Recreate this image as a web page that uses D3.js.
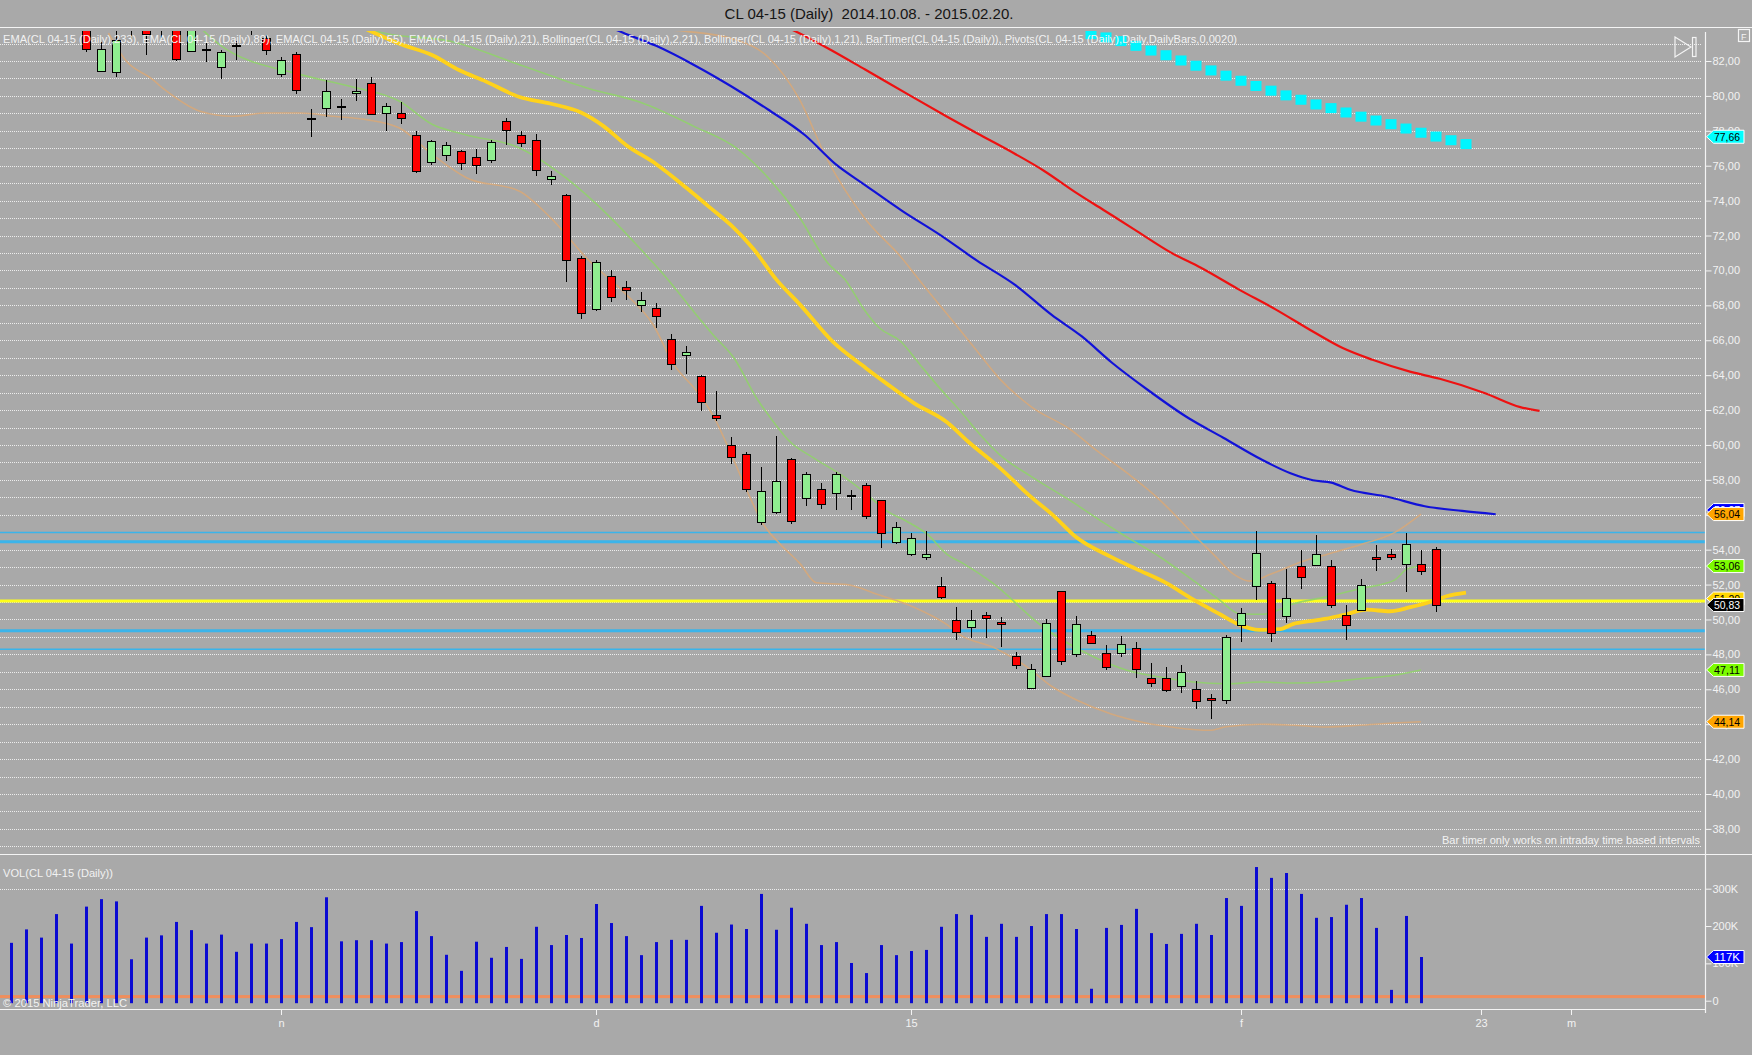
<!DOCTYPE html>
<meta charset="utf-8">
<style>
body { margin: 0; background: #a9a9a9; }
svg { display: block; font-family: "Liberation Sans", Arial, sans-serif; }
.lbl { fill: #f2f2f2; font-size: 11px; }
</style>
<svg width="1752" height="1055"></svg>
<script src="https://d3js.org/d3.v7.min.js"></script>
<script>

// daily bars, CL 04-15, index 0 = 2014.10.08
var barOpen  = [86.2,85.5,85.9,85.2,84.9,84.3,81.41,81.35,84.2,84.6,84.1,84.4,82.59,82.70,81.64,82.90,84.0,83.32,81.29,82.40,
                78.72,79.29,79.42,80.17,80.74,79.00,79.00,77.74,76.26,76.60,76.83,76.48,76.29,78.58,77.74,77.48,75.20,74.30,70.70,67.81,
                69.70,69.03,67.98,67.87,66.09,65.12,63.97,61.74,60.02,59.51,55.63,56.21,59.22,56.93,57.45,57.22,57.16,57.73,56.82,54.47,
                53.78,53.61,51.89,49.95,49.53,50.23,49.84,47.89,46.08,46.78,51.61,48.02,49.13,48.10,48.08,48.39,46.67,46.67,46.19,46.04,
                45.52,45.35,49.70,51.94,52.11,50.22,53.08,53.14,53.08,50.27,50.56,53.60,53.77,53.19,53.19,54.05];
var barHigh  = [86.9,86.3,86.4,85.8,86.0,84.6,83.1,83.9,85.2,84.9,84.9,84.8,84.1,83.07,82.65,83.13,84.8,83.47,82.23,82.50,
                79.25,80.93,79.82,80.97,81.08,79.58,79.65,77.97,77.50,77.34,76.90,76.94,77.45,78.74,78.00,77.80,75.70,74.40,70.80,70.60,
                70.00,69.40,68.74,68.11,66.36,65.65,64.00,63.08,60.48,59.60,58.73,60.50,59.25,58.44,57.83,58.44,57.41,57.80,56.85,55.58,
                54.93,55.06,52.43,50.71,50.54,50.42,50.14,48.14,47.47,50.00,51.65,50.18,49.32,48.52,49.03,48.73,47.53,47.26,47.39,46.50,
                45.75,49.13,50.66,55.05,52.18,52.91,53.96,54.82,53.39,50.81,52.30,54.24,54.01,54.97,53.96,54.15];
var barLow   = [85.1,84.6,84.9,84.3,84.5,82.5,81.35,81.06,83.3,82.32,83.3,81.98,82.55,81.92,80.99,82.08,83.5,82.36,81.10,80.13,
                77.67,78.77,78.64,79.73,78.89,78.01,78.39,75.59,76.06,76.29,75.78,75.55,76.18,77.17,77.10,75.40,74.90,69.35,67.24,67.70,
                68.19,68.31,67.62,66.70,64.30,64.07,61.97,61.40,58.88,57.33,55.44,56.07,55.48,56.49,56.34,56.28,56.28,55.73,54.11,54.34,
                53.63,53.38,51.15,48.80,48.95,48.95,48.42,47.16,46.02,46.75,47.39,47.85,48.58,47.09,47.83,46.63,46.13,45.83,45.79,44.87,
                44.32,45.14,48.71,51.13,48.71,49.82,51.74,53.10,50.66,48.84,50.47,52.76,53.39,51.57,52.55,50.43];
var barClose = [85.5,85.9,85.2,84.9,85.6,82.69,82.67,83.18,84.7,83.55,84.5,82.08,83.85,82.62,82.50,82.86,84.4,82.61,82.08,80.32,
                78.68,80.28,79.38,80.30,78.98,79.40,78.72,75.68,77.44,77.17,76.14,76.05,77.34,78.07,77.30,75.74,75.40,70.60,67.52,70.50,
                68.50,68.84,68.29,67.41,64.68,65.31,62.48,61.57,59.34,57.50,57.39,57.96,55.67,58.31,56.59,58.31,57.12,55.96,54.93,55.31,
                54.68,53.78,51.28,49.26,49.95,50.06,49.70,47.35,47.18,49.82,47.62,49.76,48.65,47.28,48.61,47.16,46.36,45.96,47.01,45.35,
                45.39,48.98,50.37,53.82,49.24,51.25,52.45,53.77,50.85,49.70,51.99,53.48,53.61,54.34,52.79,50.83];

// volume in thousands (last bar has none)
var volume = [155,191,169,232,153,252,272,266,111,169,175,211,189,153,177,131,153,153,165,211,
              197,277,159,162,162,153,157,240,173,123,80,158,115,144,112,198,149,176,168,259,
              208,173,122,157,163,163,254,182,204,192,286,190,249,206,149,157,101,74,149,122,
              133,136,198,232,230,171,206,171,200,232,232,192,32,195,203,246,181,152,179,206,
              176,275,254,358,329,342,286,222,224,257,275,195,29,227,117];
var volLine = 11;

// indicator lines: [bar index, value]
var ema233 = [[50,84.6],[52.46,83.63],[54.45,82.73],[56.94,81.51],[59.92,80.03],[62.41,78.81],[64.4,77.86],[66.89,76.7],
              [68.88,75.7],[70.87,74.53],[72.86,73.45],[74.85,72.37],[77.34,71.02],[79.33,70.15],[81.81,68.93],[84.3,67.77],
              [86.79,66.5],[88.78,65.55],[90.77,64.88],[93.26,64.2],[95.25,63.79],[98.23,62.98],[100.62,62.17],[101.9,61.95]];
var ema89  = [[38.5,84.5],[40.77,83.63],[43.01,82.87],[45.5,81.79],[47.98,80.57],[50.47,79.22],[52.96,77.73],[54.95,76.1],
              [56.94,74.89],[59.43,73.4],[61.91,72.05],[64.4,70.56],[66.89,69.2],[69.38,67.45],[71.37,66.23],[73.36,64.74],
              [75.84,63.12],[78.33,61.63],[80.82,60.41],[83.31,59.19],[85.3,58.38],[86.79,57.98],[88.03,57.84],[89.28,57.43],
              [91.77,57.03],[94.25,56.49],[96.74,56.22],[98.98,56.03]];
var emaGold = [[22.5,84.3],[24.1,83.66],[25.9,82.99],[28.1,82.33],[29.9,81.47],[31.5,80.89],[33.9,79.94],[36,79.55],
               [38,79.05],[39.5,78.27],[41,77.19],[43,76.1],[45,74.75],[46.5,73.67],[48,72.59],[49.5,71.23],[51,69.5],
               [52.6,68.04],[54.8,65.9],[57,64.4],[58.4,63.5],[60.2,62.4],[62.4,61.3],[63.8,60.2],[65.9,58.7],[67.9,57.1],
               [69.5,55.95],[71,54.72],[73.3,53.6],[75,52.9],[77,52.1],[78.8,51.15],[80.6,50.3],[81.9,49.7],[83.2,49.4],
               [84.6,49.45],[85.5,49.75],[86.6,49.9],[87.7,50.05],[88.8,50.25],[90.4,50.56],[91.9,50.47],[93.3,50.71],
               [94.6,51.0],[95.7,51.33],[97,51.54]];
var bbUpper2 = [[38,84.3],[42,83.9],[45,83.7],[48,83.3],[50.5,82.2],[52.5,79.9],[54.45,76.3],[56.9,73.0],[59.4,70.7],
                [60.6,69.4],[62.4,67.5],[64.2,65.6],[65.9,63.8],[68,62.2],[70.6,60.9],[72.5,59.6],[74.4,58.4],[76.4,57.0],
                [77.7,55.9],[78.8,54.9],[80.2,53.7],[81.5,52.6],[82.6,52.2],[84,52.6],[86,53.3],[88,53.8],[90,54.3],
                [92.2,54.96],[94,56.04]];
var bbUpper1 = [[23.5,84.0],[24.8,83.6],[29.3,83.13],[33.9,81.79],[38.5,80.43],[42,79.62],[45.5,78.27],[48.5,76.92],
                [50.5,75.29],[52.5,73.13],[54.45,70.42],[55.7,69.37],[56.8,67.85],[57.9,66.7],[59.3,65.94],[60.6,64.6],
                [61.9,63.27],[63.3,61.93],[64.6,60.6],[65.9,59.45],[68,58.2],[70.6,56.82],[72.6,55.68],[74.4,54.72],
                [76.6,53.58],[78.8,52.24],[80.6,51.1],[81.9,50.33],[83.5,50.3],[85.5,50.9],[87.7,51.3],[89.9,51.76],
                [92.2,52.24],[93.1,52.9],[94,53.06]];
var bbLower1 = [[12.5,84.0],[13.9,82.94],[19.3,81.22],[22.6,80.55],[25.9,79.69],[28.1,78.36],[30.3,77.78],[33.9,77.02],
                [37,75.3],[40,73.0],[42,71.2],[43.9,69.37],[45.5,67.66],[46.8,66.32],[48.2,64.98],[49.7,62.69],[50.8,61.36],
                [51.9,60.21],[53.5,59.26],[55.3,58.31],[56.8,57.35],[58.4,56.21],[59.7,55.63],[61.1,54.87],[62.4,53.73],
                [63.5,53.2],[65.5,52.05],[68.8,49.57],[72.2,47.85],[74.4,47.09],[76.6,46.7],[78.8,46.42],[81,46.32],
                [83.3,46.42],[85.5,46.36],[87.7,46.42],[89.9,46.6],[92.2,46.8],[94,47.11]];
var bbLower2 = [[6.5,83.6],[7.7,81.98],[9.3,81.03],[10.4,80.26],[12.6,79.12],[14.8,78.83],[17,79.02],[19.3,79.02],
                [21.5,78.83],[23.7,78.64],[25.9,78.16],[28.1,76.64],[30.4,75.3],[33.9,74.54],[36,73.0],[38.5,70.6],
                [40.8,68.8],[42.8,66.9],[44.2,64.6],[45.7,63.1],[46.8,61.7],[48.2,59.1],[49,57.5],[50.2,55.4],[51.3,54.3],
                [52.6,53.2],[53.7,52.1],[55.7,52.0],[57.9,51.4],[60.2,50.7],[62.4,49.7],[63.3,49.1],[65.5,48.4],[67.7,47.3],
                [69.5,46.1],[71,45.4],[73.3,44.6],[75.5,44.1],[77.7,43.8],[79.9,43.65],[81,43.85],[83.3,44.0],[85.5,43.94],
                [87.7,43.84],[89.9,43.94],[92.2,44.07],[94,44.14]];

// cyan square series, bars 72..97
var cyanStart = 72;
var cyanVals = [83.54,83.35,83.14,82.87,82.6,82.33,82.03,81.73,81.46,81.16,80.87,80.57,80.3,80.03,79.78,79.51,
                79.3,79.05,78.81,78.59,78.38,78.13,77.89,77.67,77.46,77.24];

// pivots: R2, R1, PP, S1, S2
var pivotLevels = [54.99, 54.45, 51.06, 49.36, 48.29];

// right-axis value markers
var tagValues = [77.66, 56.27, 56.04, 53.06, 51.20, 50.83, 47.11, 44.14];
var volTagValue = 117;

var priceTicks = d3.range(38, 83, 2);
var volTicks = [0, 100, 200, 300];
var dateTickIdx = [18, 39, 60, 82, 98, 104];
var dateTickLabels = ["n", "d", "15", "f", "23", "m"];

var legendText = "EMA(CL 04-15 (Daily),233), EMA(CL 04-15 (Daily),89), EMA(CL 04-15 (Daily),55), EMA(CL 04-15 (Daily),21), Bollinger(CL 04-15 (Daily),2,21), Bollinger(CL 04-15 (Daily),1,21), BarTimer(CL 04-15 (Daily)), Pivots(CL 04-15 (Daily),Daily,DailyBars,0,0020)";

var svg = d3.select("svg"),
    width = +svg.attr("width"),
    height = +svg.attr("height");

var axisX = 1705.5,
    priceTop = 27, priceBottom = 854, volBottom = 1009;

var x = d3.scaleLinear().domain([0, 100]).range([11, 1511]);
var y = d3.scaleLinear().domain([40, 82]).range([794, 61]);
var yv = d3.scaleLinear().domain([0, 300]).range([1000.7, 888.7]);

var fmt = d3.formatLocale({decimal: ",", thousands: ".", grouping: [3], currency: ["", ""]}).format(".2f");

svg.append("rect").attr("width", width).attr("height", height).attr("fill", "#a9a9a9");

svg.append("defs").append("clipPath").attr("id", "clipPrice")
  .append("rect").attr("x", 0).attr("y", 31).attr("width", axisX).attr("height", priceBottom - 31);

// title
svg.append("text")
    .attr("x", 869).attr("y", 19)
    .attr("text-anchor", "middle")
    .attr("font-size", 15)
    .attr("fill", "#151515")
    .style("white-space", "pre")
    .text("CL 04-15 (Daily)  2014.10.08. - 2015.02.20.");

// grid
var grid = svg.append("g").attr("stroke", "#ededed").attr("stroke-dasharray", "1,1").attr("stroke-width", 1);
grid.selectAll("line.p")
    .data(d3.range(37, 84))
  .enter().append("line")
    .attr("x1", 0).attr("x2", 1702)
    .attr("y1", function(d) { return Math.round(y(d)) + 0.5; })
    .attr("y2", function(d) { return Math.round(y(d)) + 0.5; });
grid.append("line")
    .attr("x1", 0).attr("x2", 1702)
    .attr("y1", Math.round(yv(300)) + 0.5).attr("y2", Math.round(yv(300)) + 0.5);

var price = svg.append("g").attr("clip-path", "url(#clipPrice)");

// pivot lines
var pivotColor = ["#3ab4ea", "#3ab4ea", "#ffff1a", "#3ab4ea", "#3ab4ea"],
    pivotWidth = [1.5, 3, 3, 3, 1.5];
price.selectAll("line.pivot")
    .data(pivotLevels)
  .enter().append("line")
    .attr("x1", 0).attr("x2", axisX)
    .attr("y1", function(d) { return y(d); })
    .attr("y2", function(d) { return y(d); })
    .attr("stroke", function(d, i) { return pivotColor[i]; })
    .attr("stroke-width", function(d, i) { return pivotWidth[i]; });

var line = d3.line()
    .x(function(d) { return x(d[0]); })
    .y(function(d) { return y(d[1]); })
    .curve(d3.curveMonotoneX);

function drawLine(data, color, w, op) {
  price.append("path")
      .datum(data)
      .attr("d", line)
      .attr("fill", "none")
      .attr("stroke", color)
      .attr("stroke-width", w)
      .attr("stroke-opacity", op)
      .attr("stroke-linejoin", "round");
}

drawLine(bbUpper2, "#d8a878", 1.6, 0.85);
drawLine(bbLower2, "#d8a878", 1.6, 0.85);
drawLine(bbUpper1, "#8fd468", 1.6, 0.85);
drawLine(bbLower1, "#8fd468", 1.6, 0.85);
drawLine(ema233, "#ee1111", 2.2, 1);
drawLine(ema89, "#1212d8", 2.2, 1);
drawLine(emaGold, "#ffd21a", 3.8, 1);

// candles
var bars = d3.range(barOpen.length);
var candle = price.selectAll("g.candle")
    .data(bars)
  .enter().append("g")
    .attr("shape-rendering", "crispEdges");

candle.append("line")
    .attr("x1", function(i) { return Math.round(x(i)) + 0.5; })
    .attr("x2", function(i) { return Math.round(x(i)) + 0.5; })
    .attr("y1", function(i) { return y(barHigh[i]); })
    .attr("y2", function(i) { return y(barLow[i]); })
    .attr("stroke", "#000");

candle.append("rect")
    .attr("x", function(i) { return Math.round(x(i)) - 3.5; })
    .attr("width", 8)
    .attr("y", function(i) { return Math.round(y(Math.max(barOpen[i], barClose[i]))) + 0.5; })
    .attr("height", function(i) { return Math.max(1, Math.round(Math.abs(y(barOpen[i]) - y(barClose[i])))); })
    .attr("fill", function(i) { return barClose[i] >= barOpen[i] ? "#90ee90" : "#ff0000"; })
    .attr("stroke", "#000");

// cyan squares
price.selectAll("rect.cyan")
    .data(cyanVals)
  .enter().append("rect")
    .attr("x", function(d, k) { return x(cyanStart + k) - 5.5; })
    .attr("y", function(d) { return y(d) - 5; })
    .attr("width", 11).attr("height", 10)
    .attr("fill", "#00f5ff");

// legend
svg.append("text")
    .attr("class", "lbl")
    .attr("x", 3).attr("y", 43)
    .attr("textLength", 1234)
    .attr("lengthAdjust", "spacingAndGlyphs")
    .text(legendText);

svg.append("text")
    .attr("class", "lbl")
    .attr("x", 1700).attr("y", 844)
    .attr("text-anchor", "end")
    .attr("textLength", 258)
    .attr("lengthAdjust", "spacingAndGlyphs")
    .text("Bar timer only works on intraday time based intervals");

// volume panel
svg.append("rect")
    .attr("x", 0).attr("width", axisX)
    .attr("y", yv(volLine) - 1.5).attr("height", 3)
    .attr("fill", "#f08e5c");

svg.selectAll("rect.vol")
    .data(volume)
  .enter().append("rect")
    .attr("x", function(d, i) { return Math.round(x(i)) - 1; })
    .attr("width", 3)
    .attr("y", function(d) { return yv(d); })
    .attr("height", function(d) { return yv(0) - yv(d) + 2.5; })
    .attr("fill", "#0a0ad2");

svg.append("text").attr("class", "lbl").attr("x", 3).attr("y", 877)
    .attr("textLength", 110).attr("lengthAdjust", "spacingAndGlyphs")
    .text("VOL(CL 04-15 (Daily))");
svg.append("text").attr("class", "lbl").attr("x", 3).attr("y", 1007)
    .attr("textLength", 124).attr("lengthAdjust", "spacingAndGlyphs")
    .text("\u00a9 2015 NinjaTrader, LLC");

// frame lines
var frame = svg.append("g").attr("stroke", "#f4f4f4").attr("stroke-width", 1.2);
frame.append("line").attr("x1", 0).attr("x2", width).attr("y1", priceTop + 0.5).attr("y2", priceTop + 0.5);
frame.append("line").attr("x1", 0).attr("x2", width).attr("y1", priceBottom + 0.5).attr("y2", priceBottom + 0.5);
frame.append("line").attr("x1", 0).attr("x2", axisX).attr("y1", volBottom + 0.5).attr("y2", volBottom + 0.5);
frame.append("line").attr("x1", axisX).attr("x2", axisX).attr("y1", 32).attr("y2", 1013);

// axes
function styleAxis(g) {
  g.select(".domain").remove();
  g.selectAll(".tick line").attr("stroke", "#f4f4f4");
  g.selectAll(".tick text").attr("fill", "#f2f2f2").attr("font-size", 11).attr("font-family", "Liberation Sans, Arial, sans-serif");
}

svg.append("g")
    .attr("transform", "translate(" + axisX + ",0)")
    .call(d3.axisRight(y).tickValues(priceTicks).tickFormat(fmt).tickSize(6).tickPadding(1))
    .call(styleAxis);

svg.append("g")
    .attr("transform", "translate(" + axisX + ",0)")
    .call(d3.axisRight(yv).tickValues(volTicks).tickFormat(function(d) { return d ? d + "K" : "0"; }).tickSize(6).tickPadding(1))
    .call(styleAxis);

svg.append("g")
    .attr("transform", "translate(0," + volBottom + ")")
    .call(d3.axisBottom(x).tickValues(dateTickIdx).tickFormat(function(d, i) { return dateTickLabels[i]; }).tickSize(6).tickPadding(4))
    .call(styleAxis);

// value tags
var tagBg = ["#00ffff", "#0000ff", "#ffa500", "#7cfc00", "#ffd700", "#000000", "#7cfc00", "#ffa500"],
    tagFg = ["#000", "#fff", "#000", "#000", "#000", "#fff", "#000", "#000"];

function tag(yy, label, bg, fg) {
  var g = svg.append("g");
  g.append("path")
      .attr("d", "M" + (axisX + 1) + "," + yy + "L" + (axisX + 8) + "," + (yy - 6.5) + "H1744V" + (yy + 6.5) + "H" + (axisX + 8) + "Z")
      .attr("fill", bg)
      .attr("stroke", "#fff");
  g.append("text")
      .attr("x", axisX + 8.5).attr("y", yy + 4)
      .attr("font-size", 11)
      .attr("fill", fg)
      .attr("textLength", 26).attr("lengthAdjust", "spacingAndGlyphs")
      .text(label);
}

tagValues.forEach(function(v, i) { tag(y(v), fmt(v), tagBg[i], tagFg[i]); });
tag(yv(volTagValue), volTagValue + "K", "#0000ff", "#fff");

// top-right glyphs
var glyph = svg.append("g").attr("fill", "none").attr("stroke", "#f4f4f4").attr("stroke-width", 1.2);
glyph.append("path").attr("d", "M1675,37L1691,47L1675,57Z");
glyph.append("rect").attr("x", 1692.5).attr("y", 37.5).attr("width", 3.5).attr("height", 19);
glyph.append("rect").attr("x", 1738.5).attr("y", 29.5).attr("width", 11).attr("height", 12);
svg.append("text").attr("x", 1741).attr("y", 39.5).attr("font-size", 9).attr("fill", "#f4f4f4").text("F");

</script>
